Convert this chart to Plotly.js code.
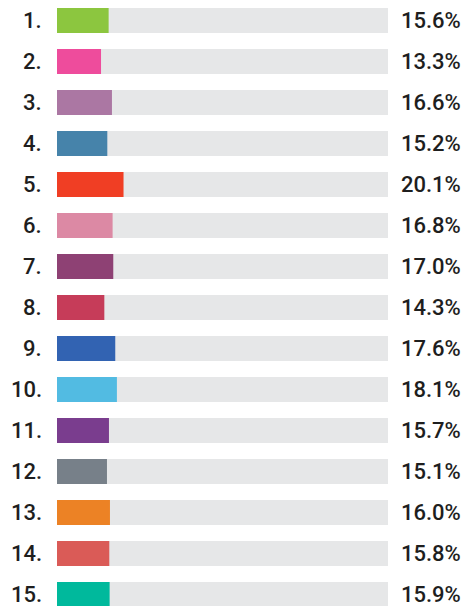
<!DOCTYPE html>
<html><head><meta charset="utf-8">
<script src="https://cdn.plot.ly/plotly-3.0.1.min.js"></script>
<style>html,body{margin:0;padding:0;background:#fff;}#chart{width:464px;height:606px;}</style>
</head><body><div id="chart"></div>
<script>
const categories = ["1.","2.","3.","4.","5.","6.","7.","8.","9.","10.","11.","12.","13.","14.","15."];
const values = [15.6,13.3,16.6,15.2,20.1,16.8,17.0,14.3,17.6,18.1,15.7,15.1,16.0,15.8,15.9];
const colors = ["#8cc63f","#ee4c9c","#ab77a3","#4683aa","#f03e24","#dc89a4","#8e4174","#c63c59","#3263b2","#52bbe2","#7a3d8e","#778089","#ec8225","#da5b57","#00b99c"];
const trackMax = 100;
const idx = categories.map((c,i)=>i);

const track = {type:'bar', orientation:'h', y: idx, x: idx.map(()=>trackMax),
  marker:{color:'#e6e7e8'}, hoverinfo:'skip', showlegend:false};
const bars = {type:'bar', orientation:'h', y: idx, x: values,
  marker:{color: colors}, showlegend:false};

const font = {family:'Roboto', size:22, color:'#1e1e1e', weight:500};
const valueNotes = values.map((v,i)=>({
  x: trackMax, y: i, xref:'x', yref:'y', text: v.toFixed(1)+'%',
  xanchor:'left', yanchor:'middle', xshift: 11, showarrow:false, font: font
}));
const catNotes = categories.map((c,i)=>({
  x: 0, y: i, xref:'x', yref:'y', text: c,
  xanchor:'right', yanchor:'middle', xshift: -13, showarrow:false, font: font
}));

const layout = {
  width:464, height:606, margin:{l:57, r:76, t:0, b:0},
  paper_bgcolor:'#fff', plot_bgcolor:'#fff',
  barmode:'overlay', bargap:0.39,
  xaxis:{range:[0,trackMax], visible:false, fixedrange:true},
  yaxis:{range:[14.28,-0.5], visible:false, showgrid:false, zeroline:false},
  annotations: catNotes.concat(valueNotes),
  showlegend:false
};
Plotly.newPlot('chart',[track,bars],layout,{displayModeBar:false, staticPlot:true});
</script></body></html>
